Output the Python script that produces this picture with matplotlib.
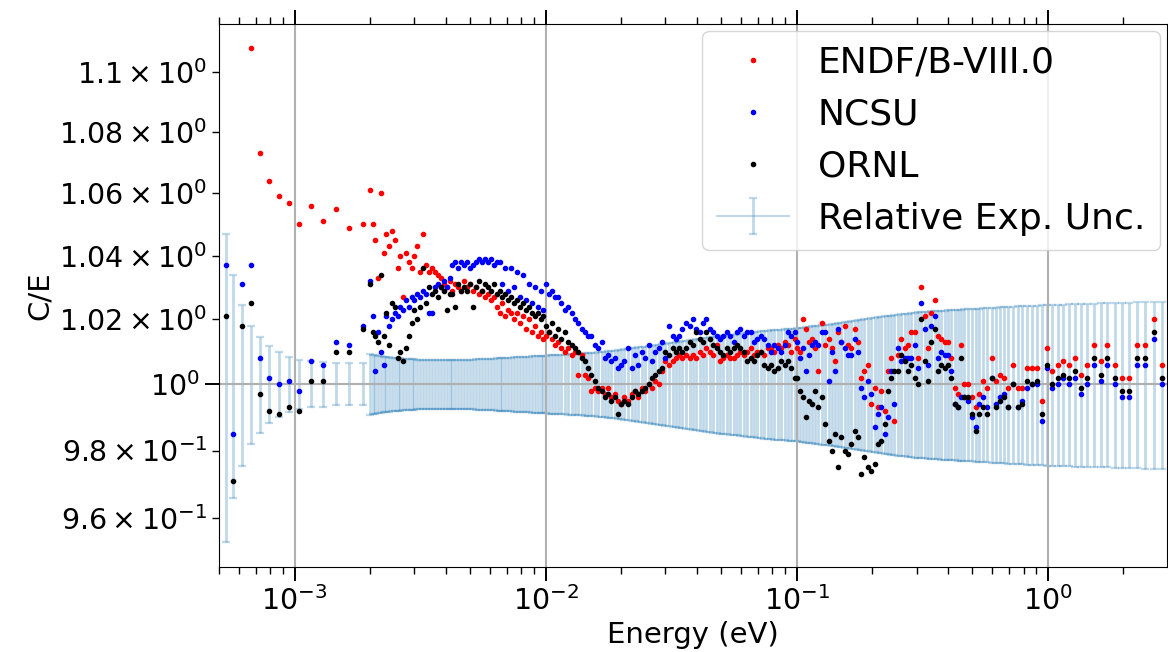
import numpy as np
import matplotlib
matplotlib.use("Agg")
import matplotlib.pyplot as plt

nan = np.nan

# low-energy points (eV), sparse part below 2 meV
energy_lo = [5.31e-4, 5.71e-4, 6.15e-4, 6.68e-4, 7.25e-4, 7.88e-4, 8.64e-4,
             9.46e-4, 1.037e-3, 1.158e-3, 1.293e-3, 1.457e-3, 1.641e-3, 1.866e-3]
endf_lo = [nan, nan, nan, 1.108, 1.073, 1.064, 1.059, 1.057, 1.050, 1.056,
           1.051, 1.055, 1.049, 1.050]
ncsu_lo = [1.037, 0.985, 1.031, 1.037, 1.008, 1.002, 1.000, 1.001, 0.998, 1.007,
           1.006, 1.013, 1.012, 1.018]
ornl_lo = [1.021, 0.971, 1.018, 1.025, 0.997, 0.992, 0.991, 0.993, 0.992, 1.001,
           1.001, 1.010, 1.010, 1.017]
unc_lo = [0.047, 0.034, 0.0245, 0.018, 0.0146, 0.0118, 0.0099, 0.0084, 0.0075,
          0.0070, 0.0068, 0.0064, 0.0064, 0.0064]

# 2 meV - 10 meV (values in meV)
energy_a_mev = [2.00, 2.05, 2.10, 2.15, 2.20, 2.26, 2.32, 2.38, 2.44, 2.50,
                2.57, 2.64, 2.71, 2.78, 2.85, 2.93, 3.00, 3.08, 3.16, 3.25,
                3.34, 3.43, 3.52, 3.62, 3.72, 3.82, 3.92, 4.03, 4.14, 4.25,
                4.37, 4.49, 4.61, 4.74, 4.87, 5.00, 5.14, 5.28, 5.42, 5.57,
                5.72, 5.88, 6.04, 6.20, 6.37, 6.55, 6.73, 6.91, 7.10, 7.30,
                7.50, 7.70, 7.90, 8.10, 8.35, 8.60, 8.85, 9.10, 9.35, 9.60,
                9.80]
endf_a = [1.061, 1.050, 1.045, 1.033, 1.060, 1.041, 1.047, 1.043, 1.048, 1.045,
          1.036, 1.040, 1.027, 1.041, 1.038, 1.036, 1.040, 1.043, 1.035, 1.047,
          1.037, 1.035, 1.036, 1.035, 1.034, 1.033, 1.031, 1.030, 1.032, 1.029,
          1.031, 1.030, 1.029, 1.032, 1.030, 1.031, 1.029, 1.030, 1.028, 1.029,
          1.027, 1.028, 1.026, 1.027, 1.024, 1.022, 1.025, 1.021, 1.023, 1.022,
          1.020, 1.022, 1.019, 1.021, 1.017, 1.020, 1.016, 1.018, 1.015, 1.016,
          1.014]
ncsu_a = [1.032, 1.021, 1.004, 1.016, 1.010, 1.006, 1.021, 1.018, 1.020, 1.022,
          1.021, 1.024, 1.023, 1.026, 1.024, 1.027, 1.026, 1.028, 1.027, 1.029,
          1.028, 1.022, 1.022, 1.030, 1.031, 1.030, 1.032, 1.030, 1.033, 1.037,
          1.038, 1.036, 1.038, 1.037, 1.038, 1.036, 1.037, 1.038, 1.039, 1.038,
          1.039, 1.038, 1.039, 1.037, 1.038, 1.038, 1.031, 1.036, 1.029, 1.036,
          1.030, 1.035, 1.027, 1.034, 1.026, 1.031, 1.025, 1.030, 1.024, 1.029,
          1.023]
ornl_a = [1.031, 1.016, 1.015, 1.013, 1.034, 1.015, 1.022, 1.012, 1.025, 1.024,
          1.008, 1.010, 1.007, 1.011, 1.015, 1.019, 1.023, 1.020, 1.024, 1.036,
          1.025, 1.030, 1.028, 1.029, 1.027, 1.030, 1.029, 1.023, 1.028, 1.028,
          1.024, 1.031, 1.029, 1.030, 1.029, 1.031, 1.024, 1.030, 1.032, 1.029,
          1.031, 1.030, 1.029, 1.031, 1.028, 1.029, 1.027, 1.028, 1.026, 1.027,
          1.025, 1.026, 1.024, 1.025, 1.023, 1.024, 1.022, 1.021, 1.022, 1.020,
          1.021]
unc_a = [0.0093, 0.0091, 0.0089, 0.0088, 0.0087, 0.0085, 0.0084, 0.0083, 0.0082, 0.0081,
         0.0080, 0.0080, 0.0079, 0.0078, 0.0078, 0.0077, 0.0077, 0.0076, 0.0076, 0.0076,
         0.0075, 0.0075, 0.0075, 0.0075, 0.0075, 0.0075, 0.0075, 0.0075, 0.0075, 0.0075,
         0.0075, 0.0075, 0.0075, 0.0075, 0.0076, 0.0076, 0.0076, 0.0077, 0.0077, 0.0077,
         0.0078, 0.0078, 0.0079, 0.0079, 0.0080, 0.0080, 0.0081, 0.0081, 0.0082, 0.0082,
         0.0083, 0.0083, 0.0084, 0.0084, 0.0085, 0.0085, 0.0086, 0.0086, 0.0087, 0.0087,
         0.0088]

# 10 meV - 100 meV (values in units of 1e-2 eV)
energy_b_cev = [1.00, 1.03, 1.06, 1.09, 1.12, 1.15, 1.19, 1.23, 1.27, 1.31,
                1.35, 1.39, 1.43, 1.47, 1.52, 1.57, 1.62, 1.67, 1.72, 1.77,
                1.82, 1.88, 1.94, 2.00, 2.06, 2.13, 2.20, 2.27, 2.34, 2.41,
                2.49, 2.57, 2.65, 2.73, 2.82, 2.91, 3.00, 3.10, 3.20, 3.30,
                3.40, 3.50, 3.62, 3.74, 3.86, 3.98, 4.10, 4.23, 4.36, 4.50,
                4.65, 4.80, 4.95, 5.10, 5.26, 5.43, 5.60, 5.78, 5.96, 6.15,
                6.35, 6.55, 6.75, 6.97, 7.20, 7.43, 7.66, 7.90, 8.15, 8.40,
                8.67, 8.95, 9.23, 9.52, 9.80]
endf_b = [1.015, 1.016, 1.014, 1.012, 1.013, 1.011, 1.010, 1.011, 1.009, 1.010,
          1.003, 1.009, 1.003, 1.002, 0.998, 0.999, 0.998, 0.999, 0.997, 0.999,
          0.996, 0.997, 0.995, 0.994, 0.996, 0.995, 0.997, 0.998, 0.996, 0.999,
          0.998, 1.000, 0.999, 1.001, 1.000, 1.004, 1.007, 1.006, 1.007, 1.008,
          1.009, 1.008, 1.009, 1.008, 1.009, 1.008, 1.010, 1.009, 1.011, 1.010,
          1.009, 1.012, 1.007, 1.008, 1.009, 1.008, 1.008, 1.009, 1.010, 1.009,
          1.010, 1.011, 1.009, 1.010, 1.010, 1.009, 1.011, 1.011, 1.010, 1.012,
          1.011, 1.013, 1.012, 1.010, 1.014]
ncsu_b = [1.031, 1.028, 1.029, 1.027, 1.027, 1.025, 1.023, 1.024, 1.022, 1.020,
          1.019, 1.017, 1.016, 1.015, 1.015, 1.012, 1.011, 1.013, 1.008, 1.009,
          1.007, 1.008, 1.005, 1.006, 1.007, 1.011, 1.005, 1.009, 1.006, 1.010,
          1.008, 1.012, 1.007, 1.010, 1.011, 1.013, 1.008, 1.018, 1.015, 1.014,
          1.015, 1.017, 1.019, 1.018, 1.020, 1.017, 1.016, 1.019, 1.020, 1.017,
          1.016, 1.015, 1.014, 1.015, 1.016, 1.015, 1.013, 1.016, 1.017, 1.015,
          1.016, 1.016, 1.013, 1.014, 1.015, 1.014, 1.012, 1.010, 1.012, 1.011,
          1.010, 1.012, 1.016, 1.015, 1.016]
ornl_b = [1.018, 1.016, 1.019, 1.015, 1.017, 1.014, 1.016, 1.013, 1.012, 1.011,
          1.010, 1.008, 1.007, 1.005, 1.003, 1.001, 0.999, 0.998, 0.996, 0.997,
          0.995, 0.996, 0.991, 0.994, 0.995, 0.994, 0.996, 0.998, 0.997, 0.998,
          0.999, 1.000, 1.002, 1.003, 1.004, 1.005, 1.010, 1.009, 1.011, 1.010,
          1.011, 1.010, 1.011, 1.013, 1.012, 1.016, 1.014, 1.013, 1.016, 1.014,
          1.012, 1.011, 1.010, 1.009, 1.011, 1.010, 1.011, 1.012, 1.011, 1.010,
          1.007, 1.008, 1.007, 1.009, 1.010, 1.006, 1.005, 1.006, 1.004, 1.005,
          1.007, 1.006, 1.007, 1.005, 1.002]
unc_b = [0.0088, 0.0089, 0.0089, 0.0090, 0.0090, 0.0091, 0.0091, 0.0092, 0.0092, 0.0093,
         0.0093, 0.0094, 0.0095, 0.0095, 0.0096, 0.0097, 0.0098, 0.0099, 0.0100, 0.0101,
         0.0102, 0.0103, 0.0105, 0.0106, 0.0107, 0.0109, 0.0110, 0.0112, 0.0113, 0.0114,
         0.0116, 0.0117, 0.0119, 0.0120, 0.0122, 0.0123, 0.0125, 0.0127, 0.0128, 0.0130,
         0.0131, 0.0132, 0.0134, 0.0136, 0.0137, 0.0139, 0.0140, 0.0141, 0.0143, 0.0144,
         0.0146, 0.0147, 0.0149, 0.0150, 0.0151, 0.0152, 0.0153, 0.0154, 0.0156, 0.0157,
         0.0158, 0.0159, 0.0160, 0.0162, 0.0163, 0.0164, 0.0165, 0.0166, 0.0167, 0.0167,
         0.0168, 0.0169, 0.0170, 0.0171, 0.0171]

# 0.1 eV - 0.48 eV
energy_c = [0.100, 0.103, 0.106, 0.109, 0.112, 0.115, 0.118, 0.122, 0.126, 0.130,
            0.134, 0.138, 0.142, 0.146, 0.150, 0.155, 0.160, 0.165, 0.170, 0.175,
            0.180, 0.186, 0.192, 0.198, 0.204, 0.210, 0.217, 0.224, 0.231, 0.238,
            0.245, 0.253, 0.261, 0.269, 0.277, 0.286, 0.295, 0.304, 0.313, 0.323,
            0.333, 0.343, 0.354, 0.365, 0.376, 0.388, 0.400, 0.412, 0.425, 0.438,
            0.451, 0.465, 0.480]
endf_c = [1.011, 1.010, 1.020, 1.017, 1.013, 1.014, 1.011, 1.004, 1.019, 1.012,
          1.014, 1.011, 1.007, 1.016, 1.013, 1.018, 1.012, 1.011, 1.017, 1.013,
          1.002, 1.004, 1.006, 0.994, 0.999, 0.993, 0.998, 0.992, 1.004, 1.008,
          0.989, 1.009, 1.014, 1.011, 1.012, 1.016, 1.016, 1.008, 1.030, 1.021,
          1.011, 1.022, 1.026, 1.015, 1.014, 1.013, 1.013, 1.008, 0.999, 0.997,
          1.012, 1.000, 1.000]
ncsu_c = [1.013, 1.008, 1.011, 1.004, 1.009, 1.012, 1.013, 1.012, 1.016, 1.016,
          1.001, 1.010, 1.004, 1.017, 1.013, 1.011, 1.009, 1.009, 1.014, 1.010,
          0.999, 0.996, 1.001, 0.997, 0.987, 0.991, 0.993, 0.985, 0.990, 1.004,
          0.994, 1.011, 1.007, 1.008, 1.008, 1.008, 1.012, 1.005, 1.025, 1.017,
          1.006, 1.018, 1.021, 1.008, 1.010, 1.009, 1.009, 1.004, 0.994, 0.993,
          0.996, 0.996, 0.995]
ornl_c = [1.002, 0.998, 0.996, 0.990, 0.995, 0.994, 0.998, 0.993, 0.996, 0.988,
          0.983, 0.980, 0.985, 0.975, 0.984, 0.980, 0.979, 0.982, 0.986, 0.984,
          0.973, 0.978, 0.975, 0.974, 0.976, 0.982, 0.983, 0.988, 0.998, 1.002,
          1.004, 1.004, 1.009, 1.007, 1.004, 1.006, 1.002, 1.000, 1.020, 1.007,
          1.001, 1.013, 1.017, 1.004, 1.006, 1.005, 1.006, 1.002, 0.994, 0.993,
          1.008, 0.996, 0.996]
unc_c = [0.0172, 0.0173, 0.0174, 0.0176, 0.0177, 0.0178, 0.0179, 0.0181, 0.0182, 0.0183,
         0.0184, 0.0186, 0.0187, 0.0188, 0.0190, 0.0191, 0.0193, 0.0194, 0.0196, 0.0197,
         0.0199, 0.0200, 0.0202, 0.0204, 0.0205, 0.0207, 0.0208, 0.0210, 0.0211, 0.0212,
         0.0214, 0.0215, 0.0216, 0.0217, 0.0218, 0.0219, 0.0221, 0.0222, 0.0223, 0.0223,
         0.0224, 0.0225, 0.0226, 0.0226, 0.0227, 0.0227, 0.0228, 0.0229, 0.0229, 0.0230,
         0.0230, 0.0231, 0.0231]

# 0.5 eV - 3 eV
energy_d = [0.498, 0.516, 0.531, 0.551, 0.571, 0.598, 0.621, 0.644, 0.668, 0.693,
            0.726, 0.759, 0.787, 0.824, 0.863, 0.904, 0.946, 0.991, 1.037, 1.096,
            1.148, 1.213, 1.282, 1.352, 1.429, 1.524, 1.626, 1.718, 1.849, 1.972,
            2.103, 2.265, 2.432, 2.643, 2.846]
endf_d = [0.996, 0.993, 0.997, 1.001, 0.999, 1.008, 1.001, 1.003, 1.002, 0.999,
          1.006, 0.999, 0.999, 1.005, 1.005, 1.005, 0.995, 1.011, 1.004, 1.006,
          1.007, 1.006, 1.008, 1.003, 1.006, 1.012, 1.007, 1.012, 1.006, 1.002,
          1.002, 1.012, 1.012, 1.020, 1.006]
ncsu_d = [0.990, 0.987, 0.994, 0.996, 0.993, 1.002, 0.994, 0.996, 0.997, 0.993,
          1.000, 0.993, 0.995, 0.999, 1.000, 1.000, 0.989, 1.005, 0.999, 1.000,
          1.002, 1.000, 1.002, 0.997, 1.000, 1.006, 1.001, 1.006, 1.000, 0.996,
          0.996, 1.006, 1.006, 1.014, 1.000]
ornl_d = [0.991, 0.986, 0.991, 0.993, 0.991, 1.002, 0.993, 0.995, 0.996, 0.993,
          1.000, 0.993, 0.994, 1.001, 1.000, 1.001, 0.991, 1.006, 1.000, 1.002,
          1.003, 1.002, 1.004, 0.999, 1.002, 1.008, 1.003, 1.008, 1.002, 0.998,
          0.998, 1.008, 1.008, 1.016, 1.002]
unc_d = [0.0232, 0.0233, 0.0234, 0.0235, 0.0235, 0.0236, 0.0237, 0.0238, 0.0238, 0.0239,
         0.0240, 0.0241, 0.0241, 0.0242, 0.0243, 0.0243, 0.0244, 0.0245, 0.0245, 0.0246,
         0.0246, 0.0247, 0.0248, 0.0248, 0.0249, 0.0249, 0.0250, 0.0250, 0.0251, 0.0252,
         0.0252, 0.0253, 0.0254, 0.0254, 0.0255]

energy = np.concatenate([energy_lo, np.array(energy_a_mev) * 1e-3,
                         np.array(energy_b_cev) * 1e-2, energy_c, energy_d])
endf = np.concatenate([endf_lo, endf_a, endf_b, endf_c, endf_d])
ncsu = np.concatenate([ncsu_lo, ncsu_a, ncsu_b, ncsu_c, ncsu_d])
ornl = np.concatenate([ornl_lo, ornl_a, ornl_b, ornl_c, ornl_d])
unc = np.concatenate([unc_lo, unc_a, unc_b, unc_c, unc_d])

fig = plt.figure(figsize=(11.68, 6.52), dpi=100)
ax = fig.add_axes([0.1875, 0.1304, 0.8116, 0.8328])

ax.errorbar(energy, np.ones_like(energy), yerr=unc, color='C0', alpha=0.28,
            capsize=3, elinewidth=2.0, capthick=1.6,
            label='Relative Exp. Unc.', zorder=1)
ax.plot(energy, endf, 'r.', label='ENDF/B-VIII.0', zorder=3)
ax.plot(energy, ncsu, 'b.', label='NCSU', zorder=3)
ax.plot(energy, ornl, 'k.', label='ORNL', zorder=3)

ax.set_xscale('log')
ax.set_yscale('log')
ax.set_xlim(5e-4, 2.98)
ax.set_ylim(0.9458, 1.1162)
ax.grid(True, linewidth=1.5)

ax.set_xlabel('Energy (eV)', fontsize=21)
ax.set_ylabel('C/E', fontsize=21)
ax.tick_params(which='both', labelsize=20.5, top=True)
ax.tick_params(which='major', length=10, width=1.4)
ax.tick_params(which='minor', length=5, width=1)

ax.legend(fontsize=26, loc='upper right', borderaxespad=0.2)

fig.savefig('out.png')
